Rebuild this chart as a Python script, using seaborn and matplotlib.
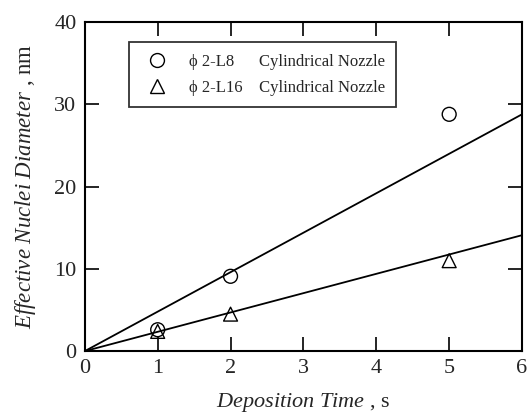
import matplotlib
matplotlib.use('Agg')
import matplotlib.pyplot as plt
import pandas as pd
import seaborn as sns

time_s = [1, 2, 5]
diam_l8 = [2.6, 9.1, 28.8]
diam_l16 = [2.4, 4.5, 11.0]

# Fitted lines (through origin), end points
line_t = [0, 6]
line_l8 = [0, 28.8]
line_l16 = [0, 14.1]

labels = ['\u03d5 2-L8      Cylindrical Nozzle', '\u03d5 2-L16    Cylindrical Nozzle']

sns.set_style('ticks')
plt.rcParams['font.family'] = ['Liberation Serif', 'DejaVu Serif']
plt.rcParams['mathtext.fontset'] = 'custom'
plt.rcParams['mathtext.it'] = 'Liberation Serif:italic'
plt.rcParams['mathtext.rm'] = 'Liberation Serif'

pts = pd.DataFrame({
    'time': time_s * 2,
    'diam': diam_l8 + diam_l16,
    'nozzle': [labels[0]] * 3 + [labels[1]] * 3,
})
fits = pd.DataFrame({
    'time': line_t * 2,
    'diam': line_l8 + line_l16,
    'nozzle': ['a', 'a', 'b', 'b'],
})

fig = plt.figure(figsize=(5.3, 4.19), dpi=100)
ax = fig.add_axes([0.160, 0.162, 0.825, 0.785])

sns.lineplot(data=fits, x='time', y='diam', units='nozzle', estimator=None,
             color='black', lw=1.3, ax=ax, legend=False)
sns.scatterplot(data=pts, x='time', y='diam', hue='nozzle', style='nozzle',
                markers={labels[0]: 'o', labels[1]: '^'},
                palette={labels[0]: 'black', labels[1]: 'black'},
                s=100, facecolor='none', linewidth=1.0, ax=ax, zorder=3)
for coll in ax.collections:
    coll.set_facecolor('none')
    coll.set_edgecolor('black')

ax.set_xlim(0, 6)
ax.set_ylim(0, 40)
ax.set_xticks(range(0, 7))
ax.set_yticks(range(0, 41, 10))
ax.tick_params(direction='in', length=10, width=1.2, top=True, right=True,
               labelsize=16, pad=6, color='black')
for sp in ax.spines.values():
    sp.set_linewidth(1.5)
    sp.set_color('black')

ax.set_xlabel(r'$\mathit{Deposition\ Time}$ , s', fontsize=16, labelpad=9)
ax.set_ylabel(r'$\mathit{Effective\ Nuclei\ Diameter}$ , nm', fontsize=16.5, labelpad=12)

h, l = ax.get_legend_handles_labels()
for hh in h:
    hh.set_markerfacecolor('none')
    hh.set_markeredgecolor('black')
leg = ax.legend(h, l, loc='upper left', bbox_to_anchor=(0.10, 0.94), borderaxespad=0,
                fontsize=12, frameon=True, fancybox=False, edgecolor='black',
                handletextpad=0.9, labelspacing=0.6, borderpad=0.7, markerscale=1.0)
leg.get_frame().set_linewidth(1.3)

fig.savefig('out.png', dpi=100)
